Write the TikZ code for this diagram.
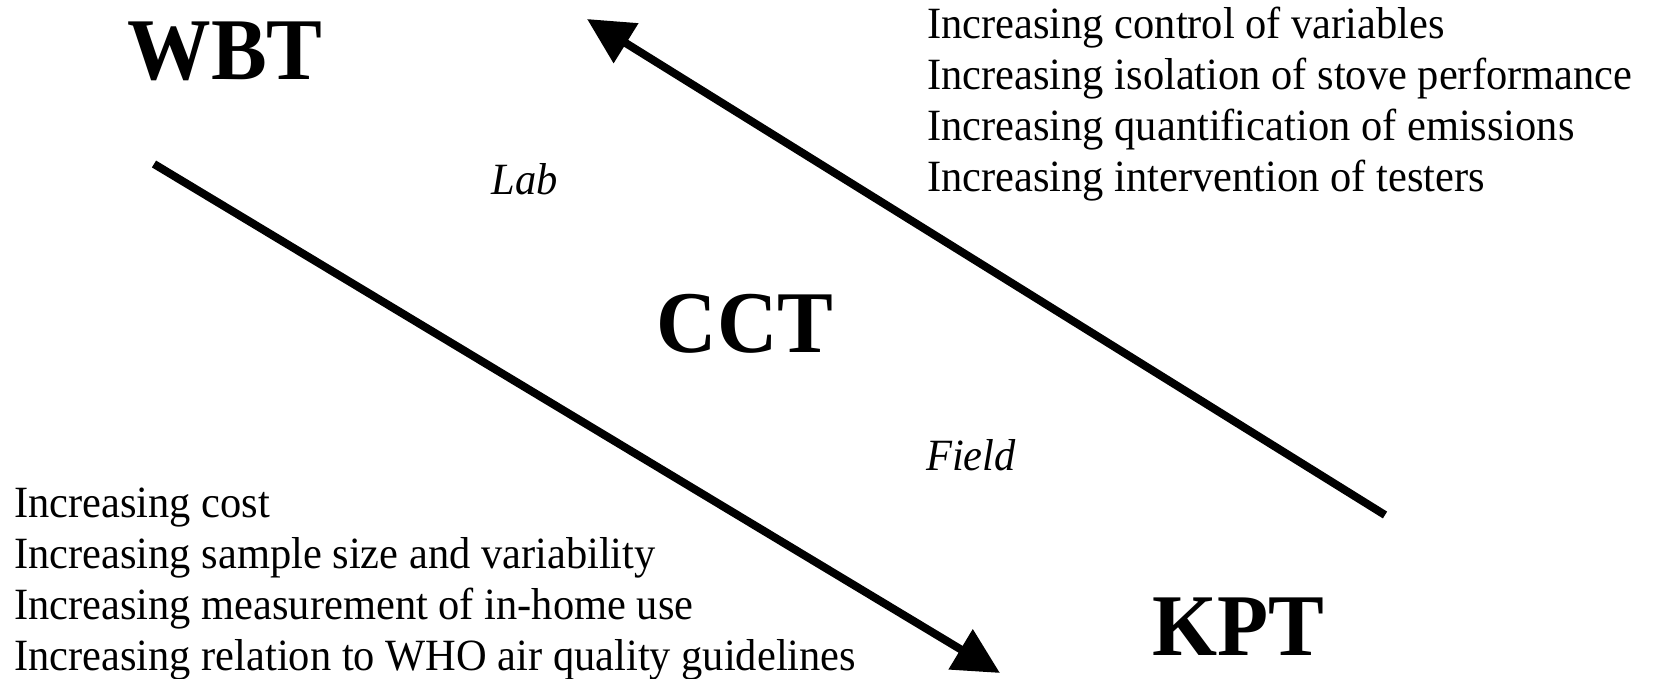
\documentclass[tikz,border=0pt]{standalone}
\usepackage{fontspec}
\setmainfont{Liberation Serif}[FakeStretch=0.95]
\usetikzlibrary{arrows.meta}

\begin{document}
\begin{tikzpicture}[x=1pt,y=1pt,yscale=-1,xscale=1,
  bigtag/.style={inner sep=0pt,font=\fontsize{88}{100}\selectfont\bfseries},
  placetag/.style={inner sep=0pt,font=\fontsize{44.7}{51}\selectfont\itshape},
  listtext/.style={inner sep=0pt,align=left,anchor=base west,font=\fontsize{44.7}{51}\selectfont},
  flowarrow/.style={line width=8pt,-{Triangle[length=46pt,width=45pt]}}]
  \useasboundingbox (0,0) rectangle (1654,679);

  % Test names
  \node (wbt) [bigtag,anchor=base] at (225,80) {WBT};
  \node (cct) [bigtag,anchor=base] at (745,352) {CCT};
  \node (kpt) [bigtag,anchor=base] at (1238,655) {KPT};

  % Lab / Field
  \node (lab) [placetag,anchor=base] at (525,195) {Lab};
  \node (field) [placetag,anchor=base] at (971,470) {Field};

  % Lists (anchored at the last line)
  \node (labgains) [listtext] at (927,192) {Increasing control of variables\\
    Increasing isolation of stove performance\\
    Increasing quantification of emissions\\
    Increasing intervention of testers};
  \node (fieldgains) [listtext,font=\fontsize{44.7}{50.7}\selectfont] at (14,670) {Increasing cost\\
    Increasing sample size and variability\\
    Increasing measurement of in-home use\\
    Increasing relation to WHO air quality guidelines};

  % Arrows
  \coordinate (downstart) at (154,164);
  \coordinate (downtip) at (1000,673);
  \coordinate (upstart) at (1385,515);
  \coordinate (uptip) at (587,19);
  \draw [flowarrow] (downstart) -- (downtip);
  \draw [flowarrow] (upstart) -- (uptip);

\end{tikzpicture}
\end{document}
